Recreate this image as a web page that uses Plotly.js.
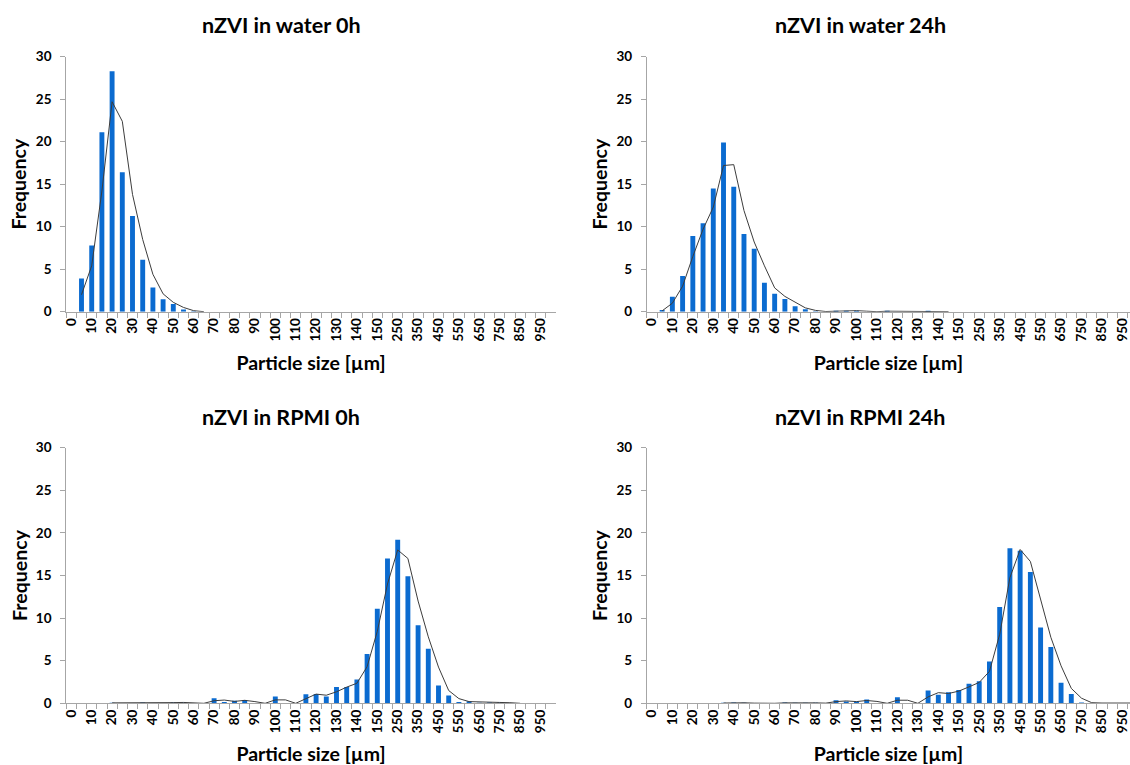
<!DOCTYPE html>
<html>
<head>
<meta charset="utf-8">
<script src="https://cdn.plot.ly/plotly-3.0.1.min.js"></script>
<style>
  html, body { margin: 0; padding: 0; background: #ffffff; }
  #chart { width: 1130px; height: 765px; }
</style>
</head>
<body>
<div id="chart"></div>
<script>
// Particle size bins (category axis)
const sizeBins = ['0','5','10','15','20','25','30','35','40','45','50','55','60','65','70','75','80','85','90','95',
  '100','105','110','115','120','125','130','135','140','145','150',
  '200','250','300','350','400','450','500','550','600','650','700','750','800','850','900','950','1000'];

// Tick labels that are printed on the axis
const shownLabels = ['0','10','20','30','40','50','60','70','80','90','100','110','120','130','140','150',
  '250','350','450','550','650','750','850','950'];

const panelTitles = ['nZVI in water 0h', 'nZVI in water 24h', 'nZVI in RPMI 0h', 'nZVI in RPMI 24h'];
const xTitle = 'Particle size [µm]';
const yTitle = 'Frequency';

// Frequency histograms (one value per bin)
const water0hFreq = [0, 3.9, 7.8, 21.1, 28.3, 16.4, 11.25, 6.1, 2.85, 1.45, 0.9, 0.25, 0.05, 0, 0, 0, 0, 0, 0, 0,
  0, 0, 0, 0, 0, 0, 0, 0, 0, 0, 0,
  0, 0, 0, 0, 0, 0, 0, 0, 0, 0, 0, 0, 0, 0, 0, 0, 0];
const water24hFreq = [0, 0.2, 1.75, 4.2, 8.9, 10.4, 14.5, 19.9, 14.7, 9.15, 7.4, 3.4, 2.1, 1.5, 0.65, 0.3, 0.05, 0, 0.12, 0.12,
  0.12, 0, 0, 0.12, 0, 0, 0, 0.12, 0, 0, 0,
  0, 0, 0, 0, 0, 0, 0, 0, 0, 0, 0, 0, 0, 0, 0, 0, 0];
const rpmi0hFreq = [0, 0, 0, 0, 0.05, 0, 0, 0.1, 0, 0, 0.1, 0.08, 0, 0, 0.6, 0.15, 0.3, 0.4, 0, 0,
  0.8, 0, 0, 1.05, 1.1, 0.8, 1.9, 1.9, 2.8, 5.8, 11.1,
  17.0, 19.2, 14.9, 9.15, 6.4, 2.1, 0.92, 0.15, 0.25, 0.05, 0.1, 0.1, 0.03, 0, 0, 0, 0];
const rpmi24hFreq = [0, 0, 0, 0, 0, 0, 0, 0.05, 0.08, 0.05, 0, 0, 0, 0.1, 0.05, 0.05, 0.05, 0, 0.35, 0.2,
  0.2, 0.45, 0, 0, 0.72, 0, 0, 1.5, 1.0, 1.3, 1.55,
  2.3, 2.6, 4.9, 11.3, 18.2, 17.9, 15.4, 8.9, 6.6, 2.4, 1.1, 0.1, 0.03, 0.03, 0.03, 0.03, 0.03];

// Trend lines (2-period moving average; null = not drawn)
const water0hTrend = [null, 2.0, 5.4, 14.2, 24.7, 22.4, 13.8, 8.5, 4.4, 2.1, 1.1, 0.5, 0.12, 0, null, null, null, null, null, null,
  null, null, null, null, null, null, null, null, null, null, null,
  null, null, null, null, null, null, null, null, null, null, null, null, null, null, null, null, null];
const water24hTrend = [null, 0.1, 1.0, 3.0, 6.5, 9.7, 12.3, 17.2, 17.3, 11.9, 8.2, 5.4, 2.8, 1.8, 1.1, 0.45, 0.15, 0.02, 0.06, 0.12,
  0.12, 0.06, 0, 0.06, 0.06, 0, 0, 0.06, 0.06, 0, null,
  null, null, null, null, null, null, null, null, null, null, null, null, null, null, null, null, null];
const rpmi0hTrend = [null, null, null, null, 0.05, 0.05, 0, 0.05, 0.05, 0.05, 0.08, 0.1, 0.05, 0, 0.3, 0.38, 0.22, 0.35, 0.2, 0,
  0.4, 0.4, 0, 0.53, 1.08, 0.95, 1.35, 1.9, 2.35, 4.3, 8.45,
  14.0, 18.0, 17.0, 12.0, 7.8, 4.25, 1.5, 0.55, 0.2, 0.15, 0.07, 0.1, 0.07, 0, null, null, null];
const rpmi24hTrend = [null, null, null, null, null, null, null, 0.03, 0.06, 0.06, 0.02, 0, 0, 0.05, 0.07, 0.05, 0.05, 0.02, 0.2, 0.28,
  0.2, 0.33, 0.22, 0, 0.36, 0.36, 0, 0.75, 1.25, 1.15, 1.43,
  1.93, 2.45, 3.75, 8.1, 14.75, 18.05, 16.65, 12.15, 7.75, 4.4, 1.75, 0.6, 0.07, 0.03, 0.03, 0.03, 0.03];

const freqSeries = [water0hFreq, water24hFreq, rpmi0hFreq, rpmi24hFreq];
const trendSeries = [water0hTrend, water24hTrend, rpmi0hTrend, rpmi24hTrend];

// ---- styling ----
const BAR_COLOR = '#0b6bd0';
const LINE_COLOR = '#3c3c3c';
const AXIS_COLOR = '#a6a6a6';
const FONT = 'Lato, "Open Sans", sans-serif';

const W = 1130, H = 765;
const px = v => v / W;
const py = v => (H - v) / H;

const tickText = sizeBins.map(c => shownLabels.includes(c) ? c : '');

const axisSuffix = ['', '2', '3', '4'];
const xDomains = [[px(66.2), px(555.8)], [px(646.8), 1], [px(66.2), px(555.8)], [px(646.8), 1]];
const xRanges = [[-0.5, 47.5], [-0.5, 46.74], [-0.5, 47.5], [-0.5, 46.74]];
const yDomains = [[py(311.7), py(56.7)], [py(311.7), py(56.7)], [py(703.3), py(447.7)], [py(703.3), py(447.7)]];
const titlePos = [[px(281), py(25)], [px(860), py(25)], [px(281), py(417)], [px(860), py(417)]];

const traces = [];
const layout = {
  width: W, height: H,
  margin: {l: 0, r: 0, t: 0, b: 0},
  paper_bgcolor: '#ffffff',
  plot_bgcolor: '#ffffff',
  showlegend: false,
  bargap: 0.52,
  font: {family: FONT, color: '#000000'},
  annotations: []
};

for (let i = 0; i < 4; i++) {
  const s = axisSuffix[i];
  traces.push({
    type: 'bar',
    x: sizeBins,
    y: freqSeries[i],
    xaxis: 'x' + s, yaxis: 'y' + s,
    marker: {color: BAR_COLOR, line: {width: 0}},
    hoverinfo: 'x+y'
  });
  traces.push({
    type: 'scatter',
    mode: 'lines',
    x: sizeBins,
    y: trendSeries[i],
    xaxis: 'x' + s, yaxis: 'y' + s,
    connectgaps: false,
    line: {color: LINE_COLOR, width: 1},
    hoverinfo: 'skip'
  });

  layout['xaxis' + s] = {
    domain: xDomains[i],
    anchor: 'y' + s,
    type: 'category',
    categoryorder: 'array',
    categoryarray: sizeBins,
    range: xRanges[i],
    tickmode: 'array',
    tickvals: sizeBins,
    ticktext: tickText,
    tickson: 'boundaries',
    tickangle: -90,
    ticks: 'outside',
    ticklen: 5,
    tickwidth: 1,
    tickcolor: AXIS_COLOR,
    tickfont: {family: FONT, size: 13.5, color: '#000000', weight: 'bold'},
    showline: true,
    linecolor: AXIS_COLOR,
    linewidth: 1,
    showgrid: false,
    zeroline: false,
    fixedrange: true,
    title: {text: xTitle, font: {family: FONT, size: 19.5, color: '#000000', weight: 'bold'}, standoff: 15}
  };
  layout['yaxis' + s] = {
    domain: yDomains[i],
    anchor: 'x' + s,
    range: [0, 30],
    dtick: 5,
    tick0: 0,
    ticks: 'outside',
    ticklen: 5,
    tickwidth: 1,
    tickcolor: AXIS_COLOR,
    ticklabelstandoff: 6,
    tickfont: {family: FONT, size: 13.5, color: '#000000', weight: 'bold'},
    showline: true,
    linecolor: AXIS_COLOR,
    linewidth: 1,
    showgrid: false,
    zeroline: false,
    fixedrange: true,
    title: {text: yTitle, font: {family: FONT, size: 19.5, color: '#000000', weight: 'bold'}, standoff: 3}
  };
  layout.annotations.push({
    text: panelTitles[i],
    xref: 'paper', yref: 'paper',
    x: titlePos[i][0], y: titlePos[i][1],
    xanchor: 'center', yanchor: 'middle',
    showarrow: false,
    font: {family: FONT, size: 21.5, color: '#000000', weight: 'bold'}
  });
}

Plotly.newPlot('chart', traces, layout, {displayModeBar: false, staticPlot: true});
</script>
</body>
</html>
